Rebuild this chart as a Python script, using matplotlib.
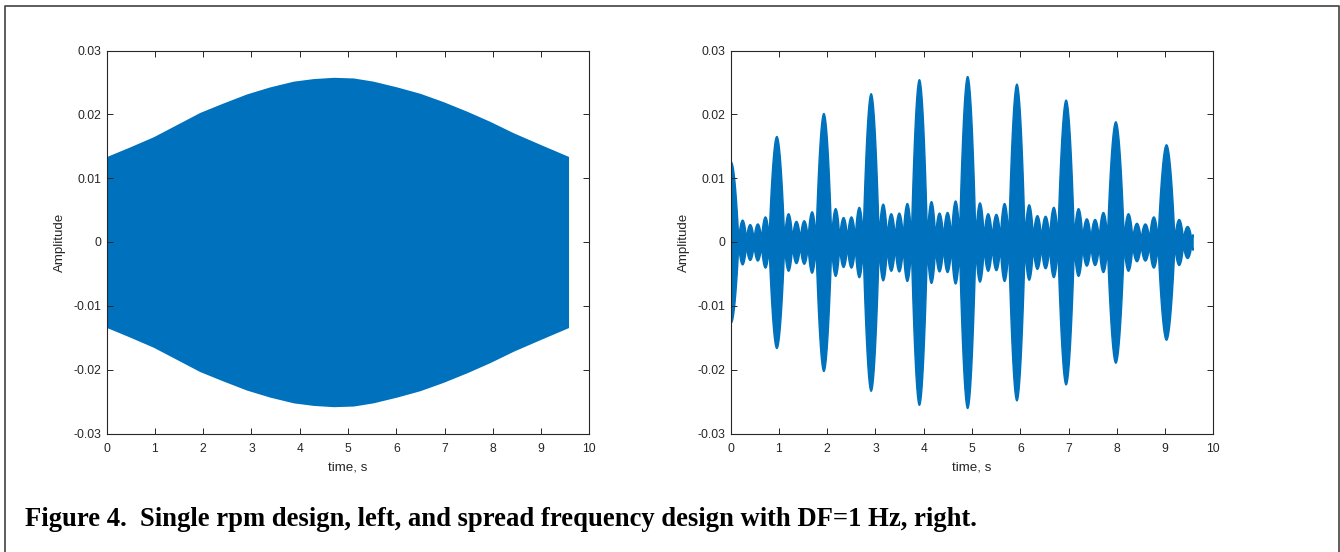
import numpy as np
import matplotlib
matplotlib.use("Agg")
from matplotlib import pyplot as plt
from matplotlib.lines import Line2D

plt.rcParams['font.family'] = ['Liberation Sans', 'DejaVu Sans']
plt.rcParams['axes.unicode_minus'] = False

# ---- data ----
# left: single rpm design, envelope of the (dense) tone
single_t = [0.0, 0.48, 0.97, 1.45, 1.93, 2.42, 2.90, 3.38, 3.87, 4.28, 4.70,
            5.11, 5.52, 6.01, 6.49, 6.97, 7.46, 7.94, 8.43, 8.98, 9.57]
single_amp = [0.0134, 0.0149, 0.0165, 0.0184, 0.0203, 0.0218, 0.0232, 0.0243, 0.0252, 0.0256, 0.0258,
              0.0257, 0.0252, 0.0243, 0.0233, 0.0220, 0.0205, 0.0189, 0.0171, 0.0153, 0.0134]

# right: spread frequency design, DF = 1 Hz (beat bursts + side lobes)
burst_t = [0.0, 0.946, 1.92, 2.90, 3.90, 4.90, 5.92, 6.94, 7.97, 9.02]
burst_peak = [0.0126, 0.0166, 0.0202, 0.0233, 0.0255, 0.0260, 0.0248, 0.0223, 0.0189, 0.0153]
side_peak = [
    [0.0035, 0.0028, 0.0029, 0.0040],
    [0.0045, 0.0033, 0.0034, 0.0048],
    [0.0053, 0.0039, 0.0040, 0.0055],
    [0.0060, 0.0045, 0.0046, 0.0061],
    [0.0064, 0.0046, 0.0047, 0.0065],
    [0.0062, 0.0045, 0.0044, 0.0061],
    [0.0059, 0.0042, 0.0041, 0.0055],
    [0.0053, 0.0037, 0.0036, 0.0047],
    [0.0045, 0.0030, 0.0029, 0.0040],
]
tail_peak = [0.0036, 0.0025, 0.0020]
null_level = 0.0008   # residual amplitude between lobes
t_end = 9.57

xticks = list(range(0, 11))
yticks = [-0.03, -0.02, -0.01, 0, 0.01, 0.02, 0.03]
ytick_labels = ['-0.03', '-0.02', '-0.01', '0', '0.01', '0.02', '0.03']
caption = 'Figure 4.  Single rpm design, left, and spread frequency design with DF=1 Hz, right.'

BLUE = '#0072BD'
DARK = '#262626'
W, H = 1340, 552


def lobes():
    # (centre, width, height) of every lobe, 6 lobe-units per beat period
    out = []
    for i, tb in enumerate(burst_t):
        if i < len(burst_t) - 1:
            u = (burst_t[i + 1] - tb) / 6
        else:
            u = (burst_t[i] - burst_t[i - 1]) / 6
        out.append((tb, 2 * u, burst_peak[i], 0.85))
        peaks = side_peak[i] if i < len(side_peak) else tail_peak
        for k, h in enumerate(peaks):
            out.append((tb + (1.5 + k) * u, u, h, 0.6))
    return out


def envelope(t):
    env = np.full_like(t, null_level)
    for c, w, h, p in lobes():
        m = np.abs(t - c) < w / 2
        env[m] = np.maximum(env[m], h * np.cos(np.pi * (t[m] - c) / w) ** p)
    return env


def style_axes(ax):
    ax.set_xlim(0, 10)
    ax.set_ylim(-0.03, 0.03)
    ax.set_xticks(xticks)
    ax.set_yticks(yticks)
    ax.set_yticklabels(ytick_labels)
    ax.tick_params(direction='in', length=4.5, width=0.7, colors=DARK, labelsize=8.7,
                   top=True, right=True)
    ax.tick_params(axis='x', pad=7)
    ax.tick_params(axis='y', pad=4)
    for s in ax.spines.values():
        s.set_color(DARK)
        s.set_linewidth(0.8)
    ax.set_xlabel('time, s', fontsize=9.6, color=DARK)
    ax.set_ylabel('Amplitude', fontsize=9.6, color=DARK)
    ax.xaxis.set_label_coords(0.5, -0.089)
    ax.xaxis.label.set_va('center')
    ax.yaxis.set_label_coords(-0.097, 0.5)
    ax.yaxis.label.set_va('center')


fig = plt.figure(figsize=(W / 100, H / 100), dpi=100)
ax1 = fig.add_axes([106.7 / W, 1 - 433.5 / H, 482.6 / W, 383 / H])
ax2 = fig.add_axes([730.7 / W, 1 - 433.5 / H, 482.6 / W, 383 / H])

st = np.array(single_t)
sa = np.array(single_amp)
ax1.fill_between(st, -sa, sa, color=BLUE, linewidth=0)

t = np.linspace(0, t_end, 6000)
env = envelope(t)
ax2.fill_between(t, -env, env, color=BLUE, edgecolor=BLUE, linewidth=1.0)

for ax in (ax1, ax2):
    style_axes(ax)

fig.text(25 / W, 1 - 526 / H, caption, ha='left', va='baseline', fontsize=19.17,
         fontweight='bold', family=['Liberation Serif', 'DejaVu Serif'], color='black')

# frame round the figure (bottom edge is cut off in the original)
fx = [5 / W, 5 / W, 1339 / W, 1339 / W]
fy = [0, 1 - 5.5 / H, 1 - 5.5 / H, 0]
fig.add_artist(Line2D(fx, fy, transform=fig.transFigure, color='#505050', linewidth=1.3))

fig.savefig('out.png', dpi=100)
